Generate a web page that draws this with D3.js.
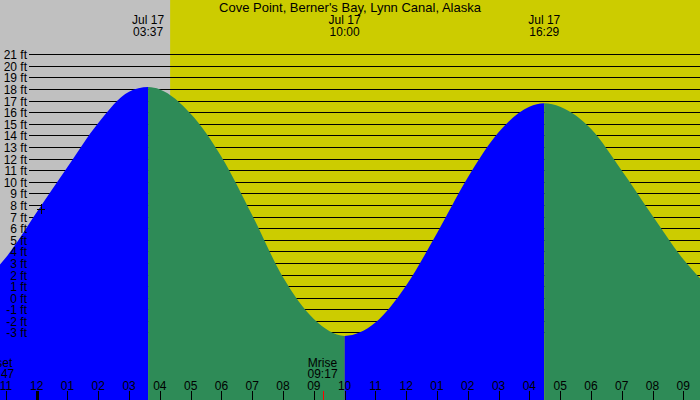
<!doctype html>
<html>
<head>
<script src="https://d3js.org/d3.v7.min.js"></script>
<style>
  body { margin: 0; }
  svg { display: block; font-family: "Liberation Sans", Arial, sans-serif; font-size: 12px; }
</style>
</head>
<body>
<svg width="700" height="400"></svg>
<script>

// tide heights (ft); time = hours from midnight Jul 17
var hourTimes = [-2, -1, 0, 1, 2, 3, 4, 5, 6, 7, 8, 9, 10, 11, 12, 13, 14, 15, 16, 17, 18, 19, 20, 21, 22];
var hourFeet  = [0.9, 3.5, 7.4, 11.3, 15.1, 17.8, 18.0, 15.9, 12.2, 7.15, 1.8, -1.8, -3.25, -2.1, 1.1, 5.6, 10.4, 14.3, 16.5, 16.5, 14.6, 11.0, 7.1, 3.35, 0.5];

// high / low tides shown at the top
var extremeLabels = ["03:37", "10:00", "16:29"];
var extremeFeet   = [18.2, -3.25, 16.8];
var extremeDate   = "Jul 17";

// sun and moon
var sunrise = "04:20";
var moonEvents = [["Mset", "22:47", -1], ["Mrise", "09:17", 0]]; // name, time, day offset

var feetTicks = d3.range(-3, 22);
var hourTicks = d3.range(-1, 22);
var title = "Cove Point, Berner's Bay, Lynn Canal, Alaska";
var marker = { time: "00:08", ft: 7.7 };

function hrs(s, day) {
  var p = s.split(":");
  return (day || 0) * 24 + (+p[0]) + (+p[1]) / 60;
}

var svg = d3.select("svg"),
    width = +svg.attr("width"),
    height = +svg.attr("height");

var x = d3.scaleLinear().domain([0, 21]).range([36.7, 683.3]),
    y = d3.scaleLinear().domain([0, 21]).range([298.2, 54.6]);

// night / day
svg.append("rect").attr("width", width).attr("height", height).attr("fill", "#c0c0c0");
svg.append("rect")
   .attr("x", x(hrs(sunrise))).attr("width", width - x(hrs(sunrise)))
   .attr("height", height).attr("fill", "#cccc00");

// feet grid
svg.append("g").selectAll("line")
   .data(feetTicks).enter().append("line")
   .attr("x1", 29).attr("x2", width)
   .attr("y1", function(d) { return Math.floor(y(d)) + 0.5; })
   .attr("y2", function(d) { return Math.floor(y(d)) + 0.5; })
   .attr("stroke", "#000").attr("stroke-width", 1)
   .attr("shape-rendering", "crispEdges");

// tide curve
var extremes = extremeLabels.map(function(s, i) { return { t: hrs(s), v: extremeFeet[i] }; });
var tide = hourTimes.map(function(t, i) { return { t: t, v: hourFeet[i] }; })
   .concat(extremes)
   .sort(function(a, b) { return a.t - b.t; });

var area = d3.area()
   .x(function(d) { return x(d.t); })
   .y0(height)
   .y1(function(d) { return y(d.v); })
   .curve(d3.curveMonotoneX);

// split fill between extremes: rising blue, falling green
var n = extremes.length;
var bounds = [x(-5)].concat(extremes.map(function(d) { return x(d.t); })).concat([x(30)]);
function isHigh(i) {
  var other = i > 0 ? extremes[i - 1] : extremes[i + 1];
  return extremes[i].v > other.v;
}
var defs = svg.append("defs");
for (var i = 0; i <= n; i++) {
  var rising = i < n ? isHigh(i) : !isHigh(n - 1);
  defs.append("clipPath").attr("id", "seg" + i)
      .append("rect")
      .attr("x", bounds[i]).attr("width", bounds[i + 1] - bounds[i])
      .attr("y", 0).attr("height", height);
  svg.append("path")
     .datum(tide)
     .attr("d", area)
     .attr("clip-path", "url(#seg" + i + ")")
     .attr("fill", rising ? "#0000ff" : "#2e8b57");
}

// feet labels
svg.append("g").selectAll("text")
   .data(feetTicks).enter().append("text")
   .attr("x", 27)
   .attr("y", function(d) { return Math.floor(y(d)) + 0.5; })
   .attr("dy", "0.35em")
   .attr("text-anchor", "end")
   .text(function(d) { return d + " ft"; });

// marker
var mx = x(hrs(marker.time)), my = y(marker.ft);
svg.append("path")
   .attr("d", "M" + (mx - 4) + "," + (Math.round(my) + 0.5) + "h8M" + (Math.round(mx) + 0.5) + "," + (my - 5) + "v10")
   .attr("stroke", "#000").attr("shape-rendering", "crispEdges");

// title and tide times
svg.append("text").attr("x", 350).attr("y", 12)
   .attr("text-anchor", "middle").style("font-size", "13px").text(title);

var tideTimes = svg.append("g").selectAll("g")
   .data(extremes).enter().append("g")
   .attr("transform", function(d) { return "translate(" + x(d.t) + ",0)"; })
   .attr("text-anchor", "middle");
tideTimes.append("text").attr("y", 24).text(extremeDate);
tideTimes.append("text").attr("y", 36).text(function(d, i) { return extremeLabels[i]; });

// hour axis
var bottom = svg.append("g");
bottom.selectAll("line")
   .data(hourTicks).enter().append("line")
   .attr("x1", function(d) { return Math.round(x(d)) + 0.5; })
   .attr("x2", function(d) { return Math.round(x(d)) + 0.5; })
   .attr("y1", 391).attr("y2", height)
   .attr("stroke", "#000")
   .attr("stroke-width", function(d) { return d % 24 === 0 ? 3 : 1; })
   .attr("shape-rendering", "crispEdges");
bottom.selectAll("text")
   .data(hourTicks).enter().append("text")
   .attr("x", function(d) { return x(d); })
   .attr("y", 390)
   .attr("text-anchor", "middle")
   .text(function(d) { var h = ((d % 12) + 12) % 12; return d3.format("02")(h === 0 ? 12 : h); });

// moon
var moon = svg.append("g").selectAll("g")
   .data(moonEvents).enter().append("g")
   .attr("transform", function(d) { return "translate(" + x(hrs(d[1], d[2])) + ",0)"; })
   .attr("text-anchor", "middle");
moon.append("line")
   .attr("x1", 0.5).attr("x2", 0.5).attr("y1", 391).attr("y2", height)
   .attr("stroke", "#ff0000").attr("shape-rendering", "crispEdges");
moon.append("text").attr("y", 366.5).text(function(d) { return d[0]; });
moon.append("text").attr("y", 378).text(function(d) { return d[1]; });

</script>
</body>
</html>
